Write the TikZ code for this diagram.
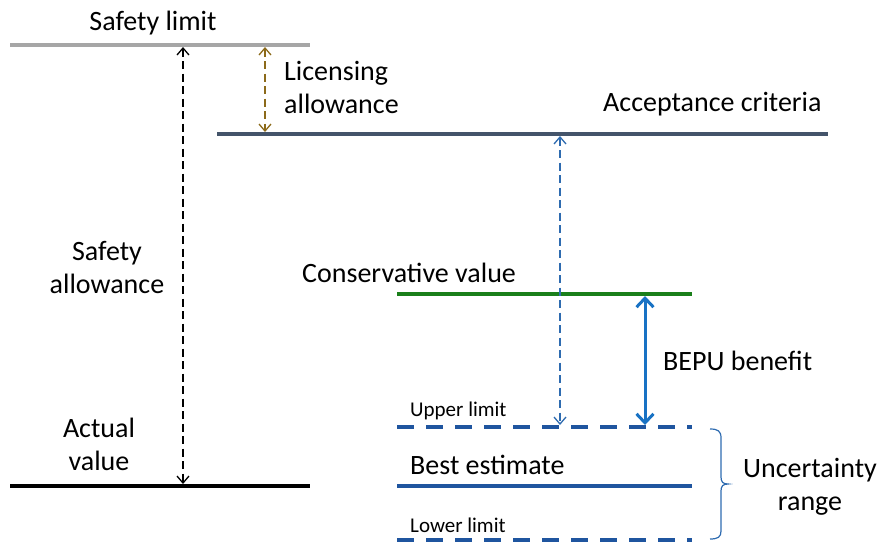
\documentclass[tikz,border=0pt]{standalone}
\usepackage{fontspec}
\setmainfont{Carlito}
\usetikzlibrary{arrows.meta}
\definecolor{lgray}{HTML}{A6A6A6}
\definecolor{slate}{HTML}{44546A}
\definecolor{cgreen}{HTML}{1A7F1A}
\definecolor{dblue}{HTML}{1F559F}
\definecolor{mblue}{HTML}{2E6BB0}
\definecolor{bblue}{HTML}{1872C4}
\definecolor{brown}{HTML}{8C6A1A}
\tikzset{
  level/.style={line width=3.5pt},
  lbl/.style={font=\fontsize{28}{33}\selectfont, inner sep=0pt, align=center},
  small/.style={font=\fontsize{21}{24}\selectfont, inner sep=0pt, anchor=west},
  dimarrow/.style={line width=1.3pt, dash pattern=on 8pt off 4.5pt, {Straight Barb[length=7pt,width=12pt]}-{Straight Barb[length=7pt,width=12pt]}},
  bigarrow/.style={line width=3pt, {Straight Barb[length=9pt,width=17pt,line width=3pt]}-{Straight Barb[length=9pt,width=17pt,line width=3pt]}},
  lvdash/.style={level, dash pattern=on 17pt off 12pt}
}
\begin{document}
\begin{tikzpicture}[x=1pt,y=-1pt]
\useasboundingbox (0,0) rectangle (880,542);
% level lines
\coordinate (sl1) at (10,45); \coordinate (sl2) at (310,45);
\coordinate (ac1) at (217,134); \coordinate (ac2) at (828,134);
\coordinate (cv1) at (397,294); \coordinate (cv2) at (692,294);
\coordinate (ul1) at (397,427); \coordinate (ul2) at (692,427);
\coordinate (be1) at (397,486); \coordinate (be2) at (692,486);
\coordinate (ll1) at (397,540); \coordinate (ll2) at (692,540);
\coordinate (av1) at (10,486); \coordinate (av2) at (310,486);
\draw[level, lgray] (sl1) -- (sl2);
\draw[level, slate] (ac1) -- (ac2);
\draw[level, cgreen] (cv1) -- (cv2);
\draw[lvdash, dblue] (ul1) -- (ul2);
\draw[level, dblue] (be1) -- (be2);
\draw[lvdash, dblue] (ll1) -- (ll2);
\draw[level, black] (av1) -- (av2);
% arrows endpoints
\coordinate (sa1) at (183,47); \coordinate (sa2) at (183,484);
\coordinate (la1) at (265,47); \coordinate (la2) at (265,132);
\coordinate (aa1) at (560,136); \coordinate (aa2) at (560,425);
\coordinate (bb1) at (645,296); \coordinate (bb2) at (645,425);
\draw[dimarrow, black] (sa1) -- (sa2);
\draw[dimarrow, brown] (la1) -- (la2);
\draw[dimarrow, mblue] (aa1) -- (aa2);
\draw[bigarrow, bblue] (bb1) -- (bb2);
% brace
\draw[mblue, line width=1.2pt] (710,429) .. controls (718,429) and (721,431) .. (721,438)
  -- (721,477) .. controls (721,482) and (723,484) .. (728,484)
  .. controls (723,484) and (721,486) .. (721,491)
  -- (721,531) .. controls (721,537) and (718,539) .. (710,539);
% labels
\node[lbl] (tsl) at (153,23) {Safety limit};
\node[lbl, anchor=west, align=left] (tla) at (284,87) {Licensing\\allowance};
\node[lbl, anchor=west] (tac) at (603,104) {Acceptance criteria};
\node[lbl] (tsa) at (107,267) {Safety\\allowance};
\node[lbl, anchor=west] (tcv) at (302,273) {Conservative value};
\node[lbl, anchor=west] (tbb) at (663,361) {BEPU benefit};
\node[small] (tul) at (410,411) {Upper limit};
\node[lbl, anchor=west] (tbe) at (410,465) {Best estimate};
\node[small] (tll) at (410,525) {Lower limit};
\node[lbl] (tav) at (99,444) {Actual\\value};
\node[lbl] (tur) at (810,487) {Uncertainty\\range};
\end{tikzpicture}
\end{document}
